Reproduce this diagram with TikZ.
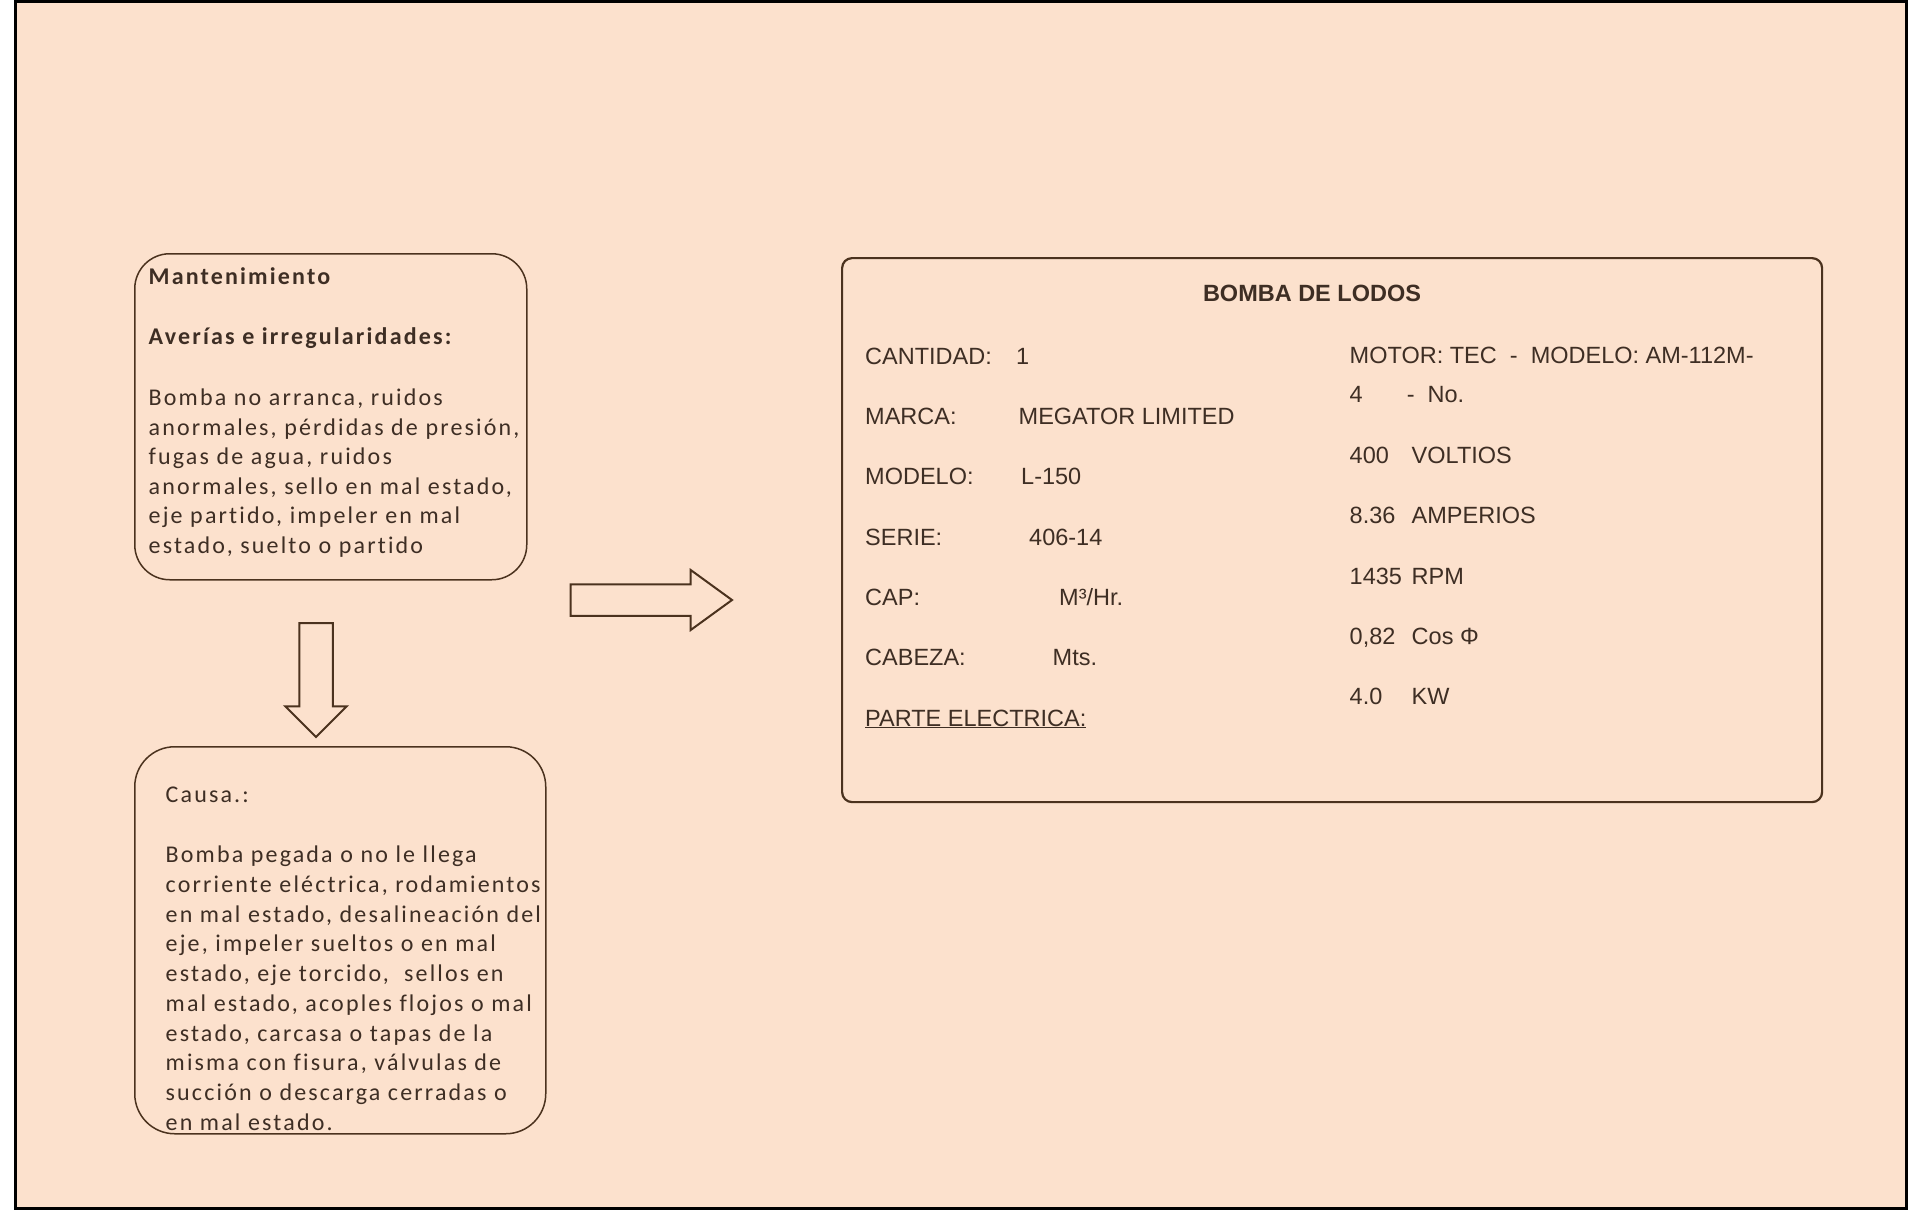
\documentclass[tikz,border=0pt]{standalone}
\usepackage{fontspec}
\setmainfont{Liberation Sans}
\newfontfamily\calibfont[LetterSpace=9, Ligatures=NoCommon]{Carlito}
\usetikzlibrary{shapes.arrows}
\definecolor{peach}{RGB}{252,225,205}
\definecolor{lineb}{RGB}{75,50,30}
\definecolor{ink}{RGB}{62,46,36}

\begin{document}
\begin{tikzpicture}[x=1pt, y=-1pt,
    roundbox/.style={draw=lineb, line width=1.5pt, rounded corners=35pt, anchor=north west, inner sep=0},
    blockarrow/.style={draw=lineb, line width=2pt, single arrow, anchor=tail, minimum width=0pt},
    lefttext/.style={text=ink, font=\calibfont\fontsize{24}{29.5}\selectfont, inner sep=0, align=left},
    datatext/.style={text=ink, font=\fontsize{23.5}{28}\selectfont, inner sep=0, anchor=base west}]
    \useasboundingbox (0,0) rectangle (1908,1210);
    \fill[white] (0,0) rectangle (1908,1210);
    \draw[black, line width=3pt, fill=peach] (15.5,1.5) rectangle (1906.5,1208.5);

    % left column
    \node[roundbox, minimum width=392, minimum height=326] (fallas) at (134,253) {};
    \node[lefttext, anchor=base west] (mant) at (148.5,284) {\textbf{Mantenimiento}};
    \node[lefttext, anchor=base west] (averias) at (148.5,344) {\textbf{Averías e irregularidades:}};
    \node[lefttext, anchor=north west] (fallastxt) at (148.5,385) {\strut Bomba no arranca, ruidos\\
        anormales, pérdidas de presión,\\ fugas de agua, ruidos\\
        anormales, sello en mal estado,\\ eje partido, impeler en mal\\
        estado, suelto o partido};

    \node[roundbox, rounded corners=40pt, minimum width=411, minimum height=387] (causa) at (134,746) {};
    \node[lefttext, anchor=base west] (causatit) at (165.5,802) {Causa.:};
    \node[lefttext, anchor=north west, font=\calibfont\fontsize{24}{29.75}\selectfont] (causatxt) at (165.5,841.5) {\strut Bomba pegada o no le llega\\
        corriente eléctrica, rodamientos\\ en mal estado, desalineación del\\
        eje, impeler sueltos o en mal\\ estado, eje torcido,\ \ sellos en\\
        mal estado, acoples flojos o mal\\ estado, carcasa o tapas de la\\
        misma con fisura, válvulas de\\ succión o descarga cerradas o\\ en mal estado.};

    \node[blockarrow, rotate=-90, inner sep=15.75pt, minimum height=114pt, single arrow head extend=14pt, single arrow tip angle=90] (abajo) at (316,622) {};
    \node[blockarrow, inner sep=14.75pt, minimum height=161.5pt, single arrow head extend=14.25pt, single arrow tip angle=72] (derecha) at (569.5,600) {};

    % pump data
    \node[roundbox, rounded corners=10pt, line width=2.2pt, minimum width=980, minimum height=544] (bomba) at (841,257) {};
    \node[datatext, anchor=base, font=\bfseries\fontsize{23.5}{28}\selectfont] (titulo) at (1312,301.5) {BOMBA DE LODOS};

    \node[datatext] (cantidad) at (865,364) {CANTIDAD:};
    \node[datatext] (cantidadv) at (1016,364) {1};
    \node[datatext] (marca) at (865,424.3) {MARCA:};
    \node[datatext] (marcav) at (1018.5,424.3) {MEGATOR LIMITED};
    \node[datatext] (modelo) at (865,484.6) {MODELO:};
    \node[datatext] (modelov) at (1021,484.6) {L-150};
    \node[datatext] (serie) at (865,545) {SERIE:};
    \node[datatext] (seriev) at (1029,545) {406-14};
    \node[datatext] (cap) at (865,605) {CAP:};
    \node[datatext] (capv) at (1059,605) {M³/Hr.};
    \node[datatext] (cabeza) at (865,665.5) {CABEZA:};
    \node[datatext] (cabezav) at (1052.5,665.5) {Mts.};
    \node[datatext] (electrica) at (865,726) {\underline{PARTE ELECTRICA:}};

    \node[datatext] (motor) at (1349.5,363.5) {MOTOR: TEC\ \ -\ \ MODELO: AM-112M-};
    \node[datatext] (motorb) at (1349.5,402.5) {4};
    \node[datatext] (motorc) at (1406.6,402.5) {-\ \ No.};
    \node[datatext] (volt) at (1349.5,463.5) {400};
    \node[datatext] (voltv) at (1411.5,463.5) {VOLTIOS};
    \node[datatext] (amp) at (1349.5,523.5) {8.36};
    \node[datatext] (ampv) at (1411.5,523.5) {AMPERIOS};
    \node[datatext] (rpm) at (1349.5,584) {1435};
    \node[datatext] (rpmv) at (1411.5,584) {RPM};
    \node[datatext] (cosphi) at (1349.5,644.5) {0,82};
    \node[datatext] (cosphiv) at (1411.5,644.5) {Cos Φ};
    \node[datatext] (kw) at (1349.5,704.5) {4.0};
    \node[datatext] (kwv) at (1411.5,704.5) {KW};
\end{tikzpicture}
\end{document}
